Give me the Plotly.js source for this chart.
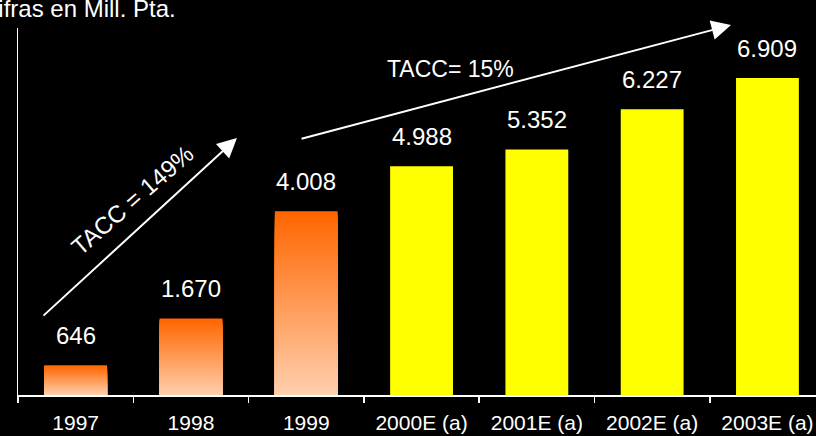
<!DOCTYPE html>
<html>
<head>
<meta charset="utf-8">
<script src="https://cdn.plot.ly/plotly-3.0.1.min.js"></script>
<style>
  html, body { margin: 0; padding: 0; background: #000; }
  #chart { width: 816px; height: 436px; }
</style>
</head>
<body>
<div id="chart"></div>
<script>
// ---- data ----
const categories = ['1997', '1998', '1999', '2000E (a)', '2001E (a)', '2002E (a)', '2003E (a)'];
const values = [646, 1670, 4008, 4988, 5352, 6227, 6909];
const isActual = [true, true, true, false, false, false, false];
const titleText = 'Cifras en Mill. Pta.';
const growthLabels = ['TACC = 149%', 'TACC= 15%'];

// ---- styling ----
const FONT = '"Liberation Sans", Arial, Helvetica, sans-serif';
const topColor = [255, 102, 0];
const bottomColor = [255, 206, 172];
const yellow = '#FFFF00';
const N = 48;

function mix(a, b, t) {
  return 'rgb(' + a.map((v, i) => Math.round(v + (b[i] - v) * t)).join(',') + ')';
}
function fmt(v) {
  return String(v).replace(/\B(?=(\d{3})+(?!\d))/g, '.');
}

const traces = [];
// gradient bars (overlay of progressively shorter, lighter bars)
for (let k = 0; k < N; k++) {
  const frac = 1 - k / N;
  traces.push({
    type: 'bar',
    x: categories,
    y: values.map((v, i) => isActual[i] ? v * frac : null),
    width: 0.545,
    marker: { color: mix(topColor, bottomColor, k / (N - 1)), line: { width: 0 } },
    hoverinfo: 'skip',
    showlegend: false
  });
}
// estimate bars
traces.push({
  type: 'bar',
  x: categories,
  y: values.map((v, i) => isActual[i] ? null : v),
  width: 0.545,
  marker: { color: yellow, line: { width: 0 } },
  hoverinfo: 'skip',
  showlegend: false
});

const annotations = [];
// value labels (x given as category index so numeric-looking names are not misread)
values.forEach((v, i) => {
  annotations.push({
    x: i, y: v, xref: 'x', yref: 'y',
    text: fmt(v), showarrow: false,
    xanchor: 'center', yanchor: 'bottom', yshift: 14,
    font: { family: FONT, size: 24, color: '#FFFFFF' }
  });
});
// title (partly cut off at the left edge as in the reference)
annotations.push({
  x: 0.2, y: 1.012, xref: 'paper', yref: 'paper',
  text: titleText, showarrow: false,
  xanchor: 'right', yanchor: 'bottom',
  font: { family: FONT, size: 24, color: '#FFFFFF' }
});
// growth arrows
annotations.push({
  x: 1.399, y: 5602, xref: 'x', yref: 'y',
  ax: -0.292, ay: 1700, axref: 'x', ayref: 'y',
  text: '', showarrow: true,
  arrowhead: 2, arrowsize: 1.95, arrowwidth: 2, arrowcolor: '#FFFFFF', standoff: 0
});
annotations.push({
  x: 5.684, y: 1.008, xref: 'x', yref: 'paper',
  ax: -431, ay: 114, axref: 'pixel', ayref: 'pixel',
  text: '', showarrow: true,
  arrowhead: 2, arrowsize: 1.95, arrowwidth: 2, arrowcolor: '#FFFFFF', standoff: 0
});
// growth labels
annotations.push({
  x: 0.486, y: 4250, xref: 'x', yref: 'y',
  text: growthLabels[0], showarrow: false, textangle: -41,
  xanchor: 'center', yanchor: 'middle',
  font: { family: FONT, size: 24, color: '#FFFFFF' }
});
annotations.push({
  x: 3.247, y: 7110, xref: 'x', yref: 'y',
  text: growthLabels[1], showarrow: false,
  xanchor: 'center', yanchor: 'middle',
  font: { family: FONT, size: 23, color: '#FFFFFF' }
});

const layout = {
  width: 816, height: 436,
  paper_bgcolor: '#000000', plot_bgcolor: '#000000',
  margin: { l: 18, r: 0, t: 28, b: 41, pad: 0 },
  barmode: 'overlay',
  bargap: 0.45,
  showlegend: false,
  xaxis: {
    type: 'category',
    categoryorder: 'array', categoryarray: categories,
    range: [-0.5, 6.421],
    showline: true, linecolor: '#FFFFFF', linewidth: 1.5,
    ticks: 'outside', tickson: 'boundaries', ticklen: 6, tickwidth: 1.5, tickcolor: '#FFFFFF',
    ticklabelstandoff: 8,
    showgrid: false, zeroline: false,
    tickfont: { family: FONT, size: 21, color: '#FFFFFF' },
    fixedrange: true
  },
  yaxis: {
    range: [0, 8000],
    showline: true, linecolor: '#FFFFFF', linewidth: 1.5,
    showticklabels: false, ticks: '', showgrid: false, zeroline: false,
    fixedrange: true
  },
  annotations: annotations
};

Plotly.newPlot('chart', traces, layout, { displayModeBar: false, staticPlot: true });
</script>
</body>
</html>
